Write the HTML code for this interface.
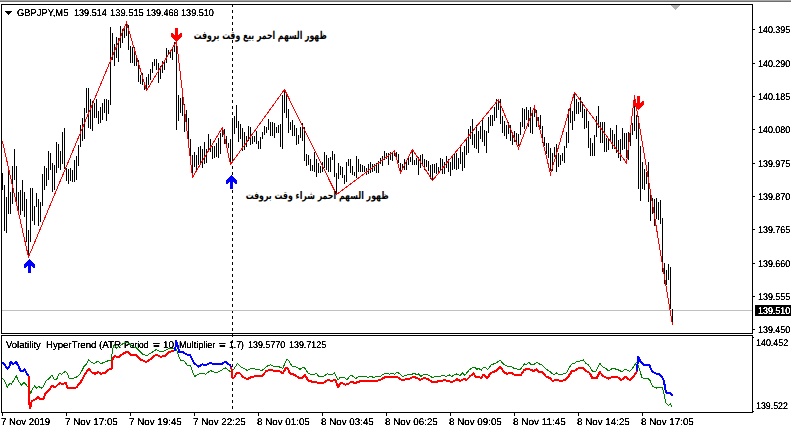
<!DOCTYPE html>
<html><head><meta charset="utf-8"><title>GBPJPY,M5</title>
<style>
html,body{margin:0;padding:0;background:#fff}
body{width:791px;height:429px;position:relative;overflow:hidden;font-family:"Liberation Sans",sans-serif}
svg{position:absolute;left:0;top:0}
#tx{position:absolute;left:0;top:0;width:791px;height:429px;filter:url(#thr)}
.t{position:absolute;text-rendering:geometricPrecision;white-space:nowrap;font-size:9.8px;line-height:9.8px;transform-origin:0 0}
</style></head><body>
<svg width="791" height="429" viewBox="0 0 791 429" shape-rendering="crispEdges">
<defs><filter id="thr" x="0" y="0" width="100%" height="100%" color-interpolation-filters="sRGB"><feComponentTransfer><feFuncA type="linear" slope="3.0" intercept="-0.43"/><!--0 1 1--></feComponentTransfer></filter></defs><rect x="0" y="0" width="791" height="1" fill="#a8a8a8"/>
<rect x="0" y="1" width="791" height="1" fill="#6e6e6e"/>
<path d="M232 4v3M232 10v3M232 16v3M232 22v3M232 28v3M232 34v3M232 40v3M232 46v3M232 52v3M232 58v3M232 64v3M232 70v3M232 76v3M232 82v3M232 88v3M232 94v3M232 100v3M232 106v3M232 112v3M232 118v3M232 124v3M232 130v3M232 136v3M232 142v3M232 148v3M232 154v3M232 160v3M232 166v3M232 172v3M232 178v3M232 184v3M232 190v3M232 196v3M232 202v3M232 208v3M232 214v3M232 220v3M232 226v3M232 232v3M232 238v3M232 244v3M232 250v3M232 256v3M232 262v3M232 268v3M232 274v3M232 280v3M232 286v3M232 292v3M232 298v3M232 304v3M232 310v3M232 316v3M232 322v3M232 328v3M232 334v3M232 340v3M232 346v3M232 352v3M232 358v3M232 364v3M232 370v3M232 376v3M232 382v3M232 388v3M232 394v3M232 400v3M232 406v3" stroke="#000" stroke-width="1" transform="translate(0.5,0)" fill="none"/>
<rect x="2" y="310" width="750" height="1" fill="#c0c0c0"/>
<g fill="#000"><rect x="1" y="4" width="752" height="1"/><rect x="1" y="333" width="752" height="1"/><rect x="1" y="4" width="1" height="330"/><rect x="752" y="4" width="1" height="330"/><rect x="1" y="335" width="752" height="1"/><rect x="1" y="412" width="752" height="1"/><rect x="1" y="335" width="1" height="78"/><rect x="752" y="335" width="1" height="78"/>
<rect x="753" y="29" width="2" height="1"/>
<rect x="753" y="63" width="2" height="1"/>
<rect x="753" y="96" width="2" height="1"/>
<rect x="753" y="129" width="2" height="1"/>
<rect x="753" y="163" width="2" height="1"/>
<rect x="753" y="196" width="2" height="1"/>
<rect x="753" y="229" width="2" height="1"/>
<rect x="753" y="263" width="2" height="1"/>
<rect x="753" y="296" width="2" height="1"/>
<rect x="753" y="329" width="2" height="1"/>
<rect x="753" y="337" width="1" height="1"/><rect x="753" y="411" width="1" height="1"/>
<rect x="2" y="413" width="1" height="3"/>
<rect x="66" y="413" width="1" height="3"/>
<rect x="130" y="413" width="1" height="3"/>
<rect x="194" y="413" width="1" height="3"/>
<rect x="258" y="413" width="1" height="3"/>
<rect x="322" y="413" width="1" height="3"/>
<rect x="386" y="413" width="1" height="3"/>
<rect x="450" y="413" width="1" height="3"/>
<rect x="514" y="413" width="1" height="3"/>
<rect x="578" y="413" width="1" height="3"/>
<rect x="642" y="413" width="1" height="3"/>
<rect x="755" y="305" width="36" height="11"/>
<path d="M5 11h7v1h-1v1h-1v1h-1v1h-1v-1h-1v-1h-1v-1h-1z"/>
</g>
<path d="M671 5h9l-4.5 5z" fill="#b4b4b4"/>
</svg>
<div id="tx">
<div class="t" style="left:16.72px;top:9.00px;color:#000;transform:scaleX(0.9559)">GBPJPY,M5</div>
<div class="t" style="left:74.14px;top:9.00px;color:#000;transform:scaleX(0.9270)">139.514</div>
<div class="t" style="left:109.52px;top:9.00px;color:#000;transform:scaleX(0.9550)">139.515</div>
<div class="t" style="left:146.14px;top:9.00px;color:#000;transform:scaleX(0.9183)">139.468</div>
<div class="t" style="left:181.04px;top:9.00px;color:#000;transform:scaleX(0.9299)">139.510</div>
<div class="t" style="left:5.80px;top:341.00px;color:#000;transform:scaleX(0.9683)">Volatility</div>
<div class="t" style="left:46.11px;top:341.00px;color:#000;transform:scaleX(0.9809)">HyperTrend</div>
<div class="t" style="left:99.07px;top:341.00px;color:#000;transform:scaleX(1.0047)">(ATR</div>
<div class="t" style="left:123.74px;top:341.00px;color:#000;transform:scaleX(0.8675)">Period</div>
<div class="t" style="font-weight:bold;left:152.68px;top:341.00px;color:#000;transform:scaleX(1.2063)">=</div>
<div class="t" style="left:163.09px;top:341.00px;color:#000;transform:scaleX(1.0143)">10,</div>
<div class="t" style="left:179.44px;top:341.00px;color:#000;transform:scaleX(0.9268)">Multiplier</div>
<div class="t" style="font-weight:bold;left:219.00px;top:341.00px;color:#000;transform:scaleX(1.1930)">=</div>
<div class="t" style="left:229.46px;top:341.00px;color:#000;transform:scaleX(0.8793)">1.7)</div>
<div class="t" style="left:248.25px;top:341.00px;color:#000;transform:scaleX(0.9081)">139.5770</div>
<div class="t" style="left:289.15px;top:341.00px;color:#000;transform:scaleX(0.9081)">139.7125</div>
<div class="t" style="left:758.15px;top:26.00px;color:#000;transform:scaleX(0.9095)">140.395</div>
<div class="t" style="left:758.15px;top:60.00px;color:#000;transform:scaleX(0.9095)">140.290</div>
<div class="t" style="left:758.15px;top:93.00px;color:#000;transform:scaleX(0.9095)">140.185</div>
<div class="t" style="left:758.15px;top:126.00px;color:#000;transform:scaleX(0.9095)">140.080</div>
<div class="t" style="left:758.15px;top:160.00px;color:#000;transform:scaleX(0.9095)">139.975</div>
<div class="t" style="left:758.15px;top:193.00px;color:#000;transform:scaleX(0.9095)">139.870</div>
<div class="t" style="left:758.15px;top:226.00px;color:#000;transform:scaleX(0.9095)">139.765</div>
<div class="t" style="left:758.15px;top:260.00px;color:#000;transform:scaleX(0.9095)">139.660</div>
<div class="t" style="left:758.15px;top:293.00px;color:#000;transform:scaleX(0.9095)">139.555</div>
<div class="t" style="left:758.15px;top:326.00px;color:#000;transform:scaleX(0.9095)">139.450</div>
<div class="t" style="left:758.15px;top:307.00px;color:#fff;transform:scaleX(0.9095)">139.510</div>
<div class="t" style="left:755.85px;top:339.00px;color:#000;transform:scaleX(0.9066)">140.452</div>
<div class="t" style="left:755.85px;top:402.00px;color:#000;transform:scaleX(0.9008)">139.522</div>
<div class="t" style="left:0.81px;top:418.00px;color:#000;transform:scaleX(0.9815)">7 Nov 2019</div>
<div class="t" style="left:64.80px;top:418.00px;color:#000;transform:scaleX(0.9994)">7 Nov 17:05</div>
<div class="t" style="left:128.80px;top:418.00px;color:#000;transform:scaleX(0.9994)">7 Nov 19:45</div>
<div class="t" style="left:192.80px;top:418.00px;color:#000;transform:scaleX(0.9994)">7 Nov 22:25</div>
<div class="t" style="left:256.80px;top:418.00px;color:#000;transform:scaleX(0.9994)">8 Nov 01:05</div>
<div class="t" style="left:320.80px;top:418.00px;color:#000;transform:scaleX(0.9994)">8 Nov 03:45</div>
<div class="t" style="left:384.80px;top:418.00px;color:#000;transform:scaleX(0.9994)">8 Nov 06:25</div>
<div class="t" style="left:448.80px;top:418.00px;color:#000;transform:scaleX(0.9994)">8 Nov 09:05</div>
<div class="t" style="left:512.79px;top:418.00px;color:#000;transform:scaleX(1.0136)">8 Nov 11:45</div>
<div class="t" style="left:576.80px;top:418.00px;color:#000;transform:scaleX(0.9994)">8 Nov 14:25</div>
<div class="t" style="left:640.80px;top:418.00px;color:#000;transform:scaleX(0.9994)">8 Nov 17:05</div>
</div>
<svg width="791" height="429" viewBox="0 0 791 429" shape-rendering="crispEdges">
<path d="M2 173v17M4 185v46M6 197v36M8 168v46M10 192v22M12 166v38M14 149v31M16 166v39M18 192v19M20 190v25M22 180v31M24 192v25M26 199v43M28 230v25M30 188v54M32 188v33M34 206v19M36 193v14M38 199v27M40 202v20M42 174v32M44 166v24M46 168v18M48 151v29M50 153v17M52 163v29M54 165v25M56 142v31M58 144v24M60 151v19M62 132v32M64 128v41M66 168v13M68 169v15M70 168v13M72 170v12M74 160v22M76 156v24M78 145v21M80 125v22M82 118v23M84 108v31M86 88v25M88 88v40M90 99v30M92 101v30M94 103v15M96 99v19M98 111v13M100 107v16M102 103v17M104 99v14M106 99v22M108 100v14M110 27v78M112 33v27M114 44v22M116 37v21M118 38v24M120 26v22M122 29v14M124 27v11M126 23v13M128 25v25M130 46v17M132 47v16M134 47v19M136 57v9M138 60v22M140 75v9M142 73v12M144 85v5M146 77v12M148 74v11M150 69v11M152 62v11M154 59v7M156 59v11M158 63v20M160 66v13M162 61v12M164 62v8M166 48v15M168 50v5M170 52v6M172 47v13M174 42v10M176 41v89M178 95v26M180 98v15M182 95v21M184 104v28M186 110v20M188 118v24M190 139v17M192 155v20M194 152v15M196 155v15M198 147v18M200 146v17M202 149v19M204 142v22M206 149v14M208 134v17M210 139v13M212 146v13M214 146v12M216 143v14M218 138v20M220 133v21M222 128v9M224 129v15M226 136v10M228 143v5M230 139v24M232 118v45M234 116v18M236 105v23M238 121v21M240 124v15M242 128v23M244 132v18M246 136v11M248 126v15M250 127v18M252 136v8M254 136v6M256 131v13M258 141v8M260 137v12M262 132v7M264 126v9M266 127v6M268 119v11M270 122v14M272 122v14M274 123v15M276 127v6M278 125v8M280 124v23M282 95v54M284 91v22M286 95v23M288 109v24M290 122v8M292 120v16M294 125v11M296 128v17M298 135v9M300 127v11M302 123v18M304 127v34M306 154v12M308 155v10M310 159v12M312 165v6M314 152v20M316 159v18M318 163v10M320 166v7M322 162v10M324 152v16M326 155v15M328 158v14M330 157v15M332 151v9M334 154v23M336 173v21M338 163v16M340 166v9M342 167v11M344 175v9M346 162v20M348 159v7M350 159v14M352 166v9M354 172v4M356 156v22M358 159v13M360 164v8M362 165v7M364 166v6M366 168v7M368 164v10M370 162v11M372 164v8M374 164v7M376 163v10M378 161v12M380 158v6M382 156v10M384 151v9M386 153v6M388 153v12M390 152v8M392 152v9M394 151v5M396 152v6M398 154v9M400 163v9M402 164v5M404 159v11M406 160v10M408 158v7M410 157v5M412 150v15M414 160v5M416 158v7M418 157v18M420 155v13M422 154v10M424 159v11M426 160v7M428 161v10M430 165v14M432 164v16M434 164v9M436 163v11M438 167v5M440 158v13M442 159v15M444 162v12M446 156v12M448 159v13M450 162v14M452 157v13M454 154v15M456 153v17M458 158v11M460 146v18M462 152v19M464 146v22M466 140v15M468 129v24M470 126v13M472 119v26M474 134v14M476 125v24M478 131v22M480 126v13M482 120v22M484 130v16M486 131v22M488 117v16M490 115v11M492 115v11M494 107v14M496 99v19M498 100v10M500 99v25M502 116v17M504 121v15M506 125v14M508 122v12M510 125v16M512 135v10M514 131v11M516 133v12M518 134v12M520 122v13M522 108v19M524 109v20M526 107v13M528 110v17M530 107v26M532 113v21M534 107v10M536 110v17M538 117v10M540 115v14M542 126v17M544 137v9M546 143v11M548 143v15M550 148v23M552 153v18M554 147v10M556 144v28M558 153v14M560 155v10M562 153v8M564 146v17M566 132v16M568 109v34M570 108v15M572 111v19M574 94v27M576 99v15M578 102v12M580 97v15M582 102v16M584 109v20M586 109v19M588 121v27M590 138v18M592 143v13M594 135v21M596 116v21M598 106v22M600 122v21M602 122v21M604 122v30M606 138v14M608 139v11M610 128v12M612 130v19M614 134v15M616 125v28M618 140v18M620 139v22M622 128v22M624 133v16M626 133v25M628 132v28M630 133v13M632 123v12M634 100v31M636 115v24M638 116v73M640 146v55M642 162v27M644 169v21M646 172v12M648 162v40M650 195v26M652 198v16M654 199v27M656 198v21M658 202v18M660 200v24M662 218v54M664 263v21M666 270v15M668 264v16M670 267v42M672 309v15" stroke="#000" stroke-width="1" fill="none" transform="translate(0.5,0)"/>
<polyline points="2.5,141.5 28.5,257 126.5,22.5 146.5,90.5 176.5,41.5 192.5,177.5 222.5,127.5 230.5,164.5 284.5,89.5 336.5,194.5 394.5,151 400.5,173 412.5,149.5 432.5,180.5 498.5,99.5 518.5,148.5 534.5,106.5 550.5,174 574.5,92.5 626.5,163 634.5,95.5 672.5,325" stroke="#f00" stroke-width="1" fill="none"/>
<polyline points="2.5,378 5,381.7 7.4,387.4 9.9,383 11.5,384 13.5,380.8 16.4,376 18.9,381.7 21.4,385 23.8,382.5 26.3,385 28.8,388.2 30.9,393.2 32.9,388.2 34.8,385.8 36.5,388.2 38.6,386.3 41,388.2 43,387.4 46,380.8 49.3,378.4 51.8,375 54.2,379.2 56.7,379.2 59.2,373.4 61.6,374.3 65,371.5 67,372.6 69,378 73,378.4 77.2,376.7 80.5,373.4 83.8,366.9 86.3,364.4 88.7,359.5 91.2,362 94.5,363.6 97.8,361 101,363.6 105.2,362 109.3,360.3 111.4,360.3 112.6,348.8 114.2,344.7 116.7,348 120,346 123.3,343.5 127.4,342.4 132.3,346.3 136.4,348 140.5,352 143,354.5 147,355.4 152,352.4 156.2,349.6 161,352 165.2,350.4 170,348 174.2,348.5 176.7,349.6 178.3,355.4 180.5,360.3 184,361 187.4,365.2 190.7,366 193,373.4 194.8,376.4 198,374.3 202.2,373 205.5,374.3 210.4,370.5 213.7,372 217,372.6 221,370.5 225.2,367.7 228.5,370.5 231.7,372 234.2,368.5 237.5,363.6 240.8,366.9 244,368.5 247.4,370.5 251.5,368.2 256.4,369.3 262.2,370.5 266.3,366.5 270.4,364.9 275.3,366.9 279.4,366.9 282.7,368.5 286.8,359.1 288.5,360.3 291.8,366 295.9,366.9 300,369.3 304,366.9 308.2,373.4 312.3,374.8 316.4,373.4 318.9,376.4 323,377 327,373.8 331.2,375 334.5,373 338,380.3 340.2,377 343.5,377 346.8,379.7 351,375 355.9,378.4 359,376.4 365.8,376.4 367.4,377.5 370.7,376.4 374,377.5 376.4,376.4 380.5,376.4 383,374.3 386.3,373 389.6,374.3 392.9,373 394.5,374.3 397,372 400.3,374.3 402.7,376.4 406.8,375 411,374.8 414.2,373 416.7,375 418.3,373.8 420.8,376.4 424,374.3 428.2,375 432.3,377.5 435.6,376.4 439.7,376.7 443,375 445.5,376.4 449.6,375 452,376.4 456,373.8 460.2,375.4 462.7,373 464.7,375.4 469.3,369.8 472.6,367.4 475,367.7 477,369.3 478.7,368.2 481.3,370.5 483.2,367.4 485.7,367.7 487.6,369.8 491.5,364.4 495.6,363.6 500,360 503.8,364.4 507,366 511.2,366.5 514.8,368.8 520.3,369.3 524.4,363.9 526.8,364.4 528.5,362.3 531,364.4 534.2,364.4 536.7,362.3 540,364.4 542.4,365.2 545.7,368.8 549.8,371.5 554,375 556.4,373 558.9,374.3 562.2,374.3 566.3,373 569.6,366.9 572,363.9 574.5,363.6 577,361 580.2,361 583.5,360 586,363.6 588.5,364.9 592.6,371.5 595.9,371 600,363.4 602.5,366.9 605.8,368.2 608.2,371 612.3,368.5 617.3,369.3 622.2,372 624.7,369.3 627,369.8 629.6,371.5 632.9,367.7 636.2,362.8 637.5,363.3 639.4,369.3 641.9,377.5 645.2,378.7 647.7,378 650.3,380.8 652.4,386.2 656.5,388 659.2,387 662.3,387.4 663.9,393.5 665.9,402.8 668.4,405.3 670.4,403.5 671.5,406.8" stroke="#008000" stroke-width="1" fill="none"/>
<polyline points="2.5,362 5,365 7.4,369 9.5,366 10.7,362 13,364.4 16,362 18,365 20.5,371 23,371 24.6,369 26.3,372.6 28.8,376.4" stroke="#00f" stroke-width="2" fill="none" stroke-linejoin="round"/>
<polyline points="28.8,376.4 29.2,392 29.6,408.3 30.4,407 31.6,401.2 35.3,399.5 38,397.3 40.3,399.2 43.4,398.8 45.5,393.6 48.7,390.4 52.3,385.8 55,387.4 57.5,385 60,383 62.4,384 65.7,383 67.7,388.2 72.3,388.2 76.4,387.4 80.5,382.5 85.5,373.4 88.7,368.8 92,372.6 95.3,373.8 98,372 101,373.8 105.2,372.6 109.3,369.3 111.7,368.5 112.6,358.7 115,356.2 118.3,357 120,356.2 123.3,353.4 127.4,351.7 131.5,355.4 136.4,355.4 140.5,359.5 146.3,362 151.2,358.7 156.2,354.5 160.3,356.7 164.4,356.2 169.3,352 174.2,350.8" stroke="#f00" stroke-width="2" fill="none" stroke-linejoin="round"/>
<polyline points="174.2,350.8 175.3,350 175.9,341 177.5,344.7 179.2,352 183.3,352.4 186.6,354.5 189.8,354.5 194,362.8 198.6,366.9 202.2,364.4 205.5,365.2 210.4,362.8 213.7,364.4 221,364.4 225.2,361.6 230.1,365.2 231.4,367.2" stroke="#00f" stroke-width="2" fill="none" stroke-linejoin="round"/>
<polyline points="231.4,367.2 232,377.5 234.2,377.5 237,372.6 240,373.4 243.3,377 247.4,379.2 251.5,377 256.4,375.9 262.2,375.9 266.3,371 270.4,369.8 275.3,371 279.4,371 282.7,373.4 286,367.7 287.7,368.5 290,373.4 295,375 299.2,378 301.6,378 305,374.8 308.2,380.8 312.3,381.7 317.2,382.5 323.8,382.5 328,380 331.2,380.8 335.3,380 338,387 341,382.5 345.2,384.6 348.5,384 351,381.7 355,383 360,381.3 369.8,381.2 376.4,381.2 380.5,379.7 385.5,377 397,376.7 399.4,378.7 402,380 409.3,378.7 413.4,377 417.5,378 420,380 424,378 428.2,379.2 432.3,382 436.4,382 438.9,380.8 445.5,380.3 450.4,381.7 452.9,381.7 457,379.2 460.2,380.8 463.5,379.2 466.8,379.7 470,376.4 473.4,373.4 475.9,377 479,377 481,378.2 483.3,374.8 487.4,378 490.7,373 495.6,371 500.5,366.9 503.8,372 507,373.8 511.2,372.6 514.5,374.8 521,374.8 524.4,369.8 528.5,368.8 533.4,371 536.7,369.3 539.2,371.8 542.4,372 545.7,376.4 549.8,378 552.3,380.8 556.4,380 560.5,380.8 564.6,380.3 568,377 572,371 575.3,370.5 578.6,368.2 583.5,368.2 586.8,371.5 589.3,372.6 592.6,378.4 596.7,378.4 599.6,372 603.3,376 608.2,378.7 612.3,377 617.3,377 621.4,380 625.5,377 629.6,380 632.9,377.5 636.2,372.6 637,371" stroke="#f00" stroke-width="2" fill="none" stroke-linejoin="round"/>
<polyline points="637,371 638.1,356.7 640.3,361 642.7,364.4 649.3,365.2 652.3,371.5 655.9,373.4 659.2,374.3 662.4,377.5 663.9,381 665.4,389.6 666.4,392.6 670.4,393 672.5,396" stroke="#00f" stroke-width="2" fill="none" stroke-linejoin="round"/>
<g fill="#00f"><rect x="24" y="264" width="1" height="4"/><rect x="25" y="263" width="1" height="5"/><rect x="26" y="262" width="1" height="5"/><rect x="27" y="261" width="1" height="5"/><rect x="28" y="260" width="1" height="13"/><rect x="29" y="259" width="1" height="14"/><rect x="30" y="260" width="1" height="13"/><rect x="31" y="261" width="1" height="5"/><rect x="32" y="262" width="1" height="5"/><rect x="33" y="263" width="1" height="5"/><rect x="34" y="264" width="1" height="4"/></g>
<g fill="#00f"><rect x="226" y="180" width="1" height="4"/><rect x="227" y="179" width="1" height="5"/><rect x="228" y="178" width="1" height="5"/><rect x="229" y="177" width="1" height="5"/><rect x="230" y="176" width="1" height="13"/><rect x="231" y="175" width="1" height="14"/><rect x="232" y="176" width="1" height="13"/><rect x="233" y="177" width="1" height="5"/><rect x="234" y="178" width="1" height="5"/><rect x="235" y="179" width="1" height="5"/><rect x="236" y="180" width="1" height="4"/></g>
<g fill="#f00"><rect x="171" y="33" width="1" height="4"/><rect x="172" y="33" width="1" height="5"/><rect x="173" y="34" width="1" height="5"/><rect x="174" y="35" width="1" height="5"/><rect x="175" y="28" width="1" height="13"/><rect x="176" y="28" width="1" height="14"/><rect x="177" y="28" width="1" height="13"/><rect x="178" y="35" width="1" height="5"/><rect x="179" y="34" width="1" height="5"/><rect x="180" y="33" width="1" height="5"/><rect x="181" y="33" width="1" height="4"/></g>
<g fill="#f00"><rect x="633" y="101" width="1" height="4"/><rect x="634" y="101" width="1" height="5"/><rect x="635" y="102" width="1" height="5"/><rect x="636" y="103" width="1" height="5"/><rect x="637" y="96" width="1" height="13"/><rect x="638" y="96" width="1" height="14"/><rect x="639" y="96" width="1" height="13"/><rect x="640" y="103" width="1" height="5"/><rect x="641" y="102" width="1" height="5"/><rect x="642" y="101" width="1" height="5"/><rect x="643" y="101" width="1" height="4"/></g>
<text x="260.25" y="39.1" font-family="'DejaVu Sans', sans-serif" font-size="11" font-weight="bold" fill="#000" text-anchor="middle" textLength="133" lengthAdjust="spacingAndGlyphs" text-rendering="geometricPrecision">ظهور السهم احمر بيع وقت بروفت</text>
<text x="317.15" y="198.6" font-family="'DejaVu Sans', sans-serif" font-size="10.5" font-weight="bold" fill="#000" text-anchor="middle" textLength="143" lengthAdjust="spacingAndGlyphs" text-rendering="geometricPrecision">ظهور السهم احمر شراء وقت بروفت</text>
</svg>
</body></html>
